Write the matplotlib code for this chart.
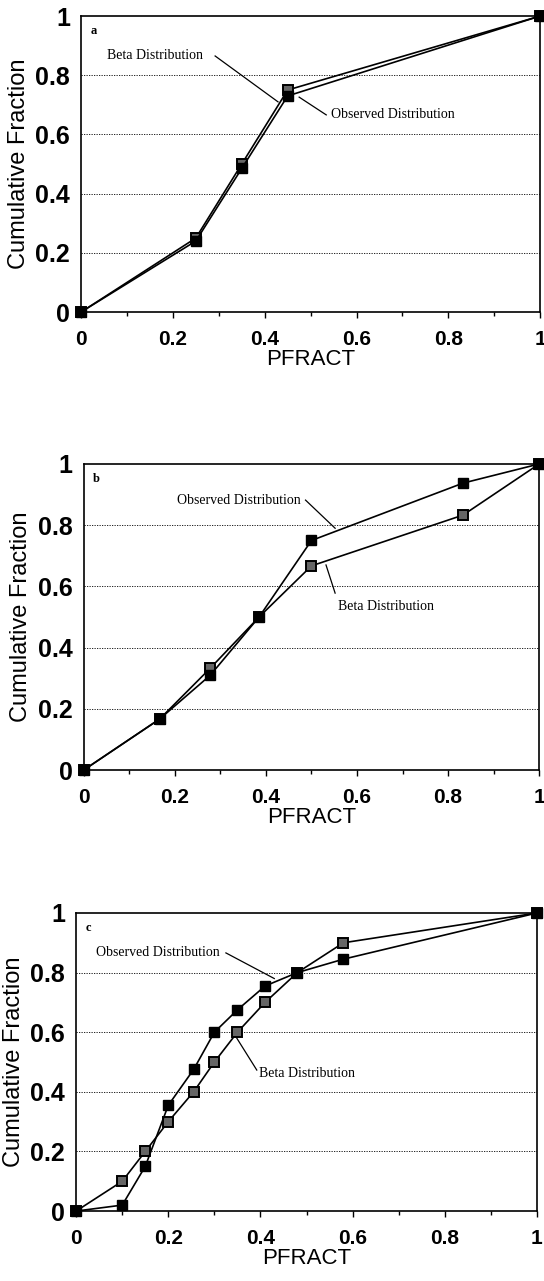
import matplotlib
matplotlib.use("Agg")
import matplotlib.pyplot as plt
import numpy as np

# panel a
a_x = [0, 0.25, 0.35, 0.45, 1.0]
a_beta = [0, 0.25, 0.50, 0.75, 1.0]
a_obs = [0, 0.24, 0.485, 0.73, 1.0]

# panel b
b_x = [0, 0.167, 0.278, 0.385, 0.50, 0.833, 1.0]
b_beta = [0, 0.167, 0.333, 0.50, 0.667, 0.833, 1.0]
b_obs = [0, 0.167, 0.31, 0.50, 0.75, 0.9375, 1.0]

# panel c
c_x = [0, 0.10, 0.15, 0.20, 0.255, 0.30, 0.35, 0.41, 0.48, 0.58, 1.0]
c_beta = [0, 0.10, 0.20, 0.30, 0.40, 0.50, 0.60, 0.70, 0.80, 0.90, 1.0]
c_obs = [0, 0.02, 0.15, 0.355, 0.475, 0.60, 0.675, 0.755, 0.80, 0.845, 1.0]

fig = plt.figure(figsize=(5.44, 12.81), dpi=100)

panels = [
    # letter, rect, x, beta, obs, beta text/line, obs text/line
    ('a', [0.149, 0.7564, 0.844, 0.2311], a_x, a_beta, a_obs,
     ((0.057, 0.865), (0.292, 0.865), (0.429, 0.71)),
     ((0.545, 0.666), (0.534, 0.666), (0.475, 0.726))),
    ('b', [0.154, 0.3989, 0.837, 0.2389], b_x, b_beta, b_obs,
     ((0.559, 0.533), (0.552, 0.578), (0.532, 0.67)),
     ((0.204, 0.882), (0.487, 0.882), (0.552, 0.79))),
    ('c', [0.140, 0.0546, 0.847, 0.2327], c_x, c_beta, c_obs,
     ((0.396, 0.463), (0.392, 0.473), (0.347, 0.584)),
     ((0.044, 0.866), (0.325, 0.866), (0.43, 0.78))),
]

for letter, rect, xs, beta, obs, bt, ot in panels:
    ax = fig.add_axes(rect)
    ax.set_xlim(0, 1)
    ax.set_ylim(0, 1)
    for g in [0.2, 0.4, 0.6, 0.8]:
        ax.axhline(g, color='black', lw=0.6, ls=(0, (1.5, 1.5)), zorder=1)
    ax.plot(xs, beta, color='black', lw=1.2, marker='s', ms=7,
            mfc='0.4', mec='black', mew=1.4, zorder=3, clip_on=False)
    ax.plot(xs, obs, color='black', lw=1.2, marker='s', ms=7,
            mfc='black', mec='black', zorder=3, clip_on=False)

    ax.text(*bt[0], 'Beta Distribution', family='Liberation Serif',
            fontsize=10, va='center', ha='left')
    ax.plot([bt[1][0], bt[2][0]], [bt[1][1], bt[2][1]], color='black', lw=0.9)
    ax.text(*ot[0], 'Observed Distribution', family='Liberation Serif',
            fontsize=10, va='center', ha='left')
    ax.plot([ot[1][0], ot[2][0]], [ot[1][1], ot[2][1]], color='black', lw=0.9)
    ax.text(0.02, 0.95, letter, family='Liberation Serif', fontsize=9,
            fontweight='bold', va='center', ha='left')

    ax.set_xticks(np.arange(0, 1.01, 0.2))
    ax.set_xticklabels(['0', '0.2', '0.4', '0.6', '0.8', '1'])
    ax.set_xticks(np.arange(0, 1.01, 0.1), minor=True)
    ax.set_yticks(np.arange(0, 1.01, 0.2))
    ax.set_yticklabels(['0', '0.2', '0.4', '0.6', '0.8', '1'])
    ax.tick_params(axis='x', which='major', direction='out', length=4, width=1,
                   labelsize=15, pad=9)
    ax.tick_params(axis='x', which='minor', direction='out', length=3, width=1)
    ax.tick_params(axis='y', length=0, labelsize=18, pad=8)
    for lab in ax.get_xticklabels() + ax.get_yticklabels():
        lab.set_family('Liberation Sans')
        lab.set_fontweight('bold')
    for sp in ax.spines.values():
        sp.set_linewidth(1.2)
    ax.set_xlabel('PFRACT', family='Liberation Sans', fontsize=16, labelpad=0)
    ax.set_ylabel('Cumulative Fraction', family='Liberation Sans', fontsize=17,
                  labelpad=4)

fig.savefig('out.png', dpi=100)
